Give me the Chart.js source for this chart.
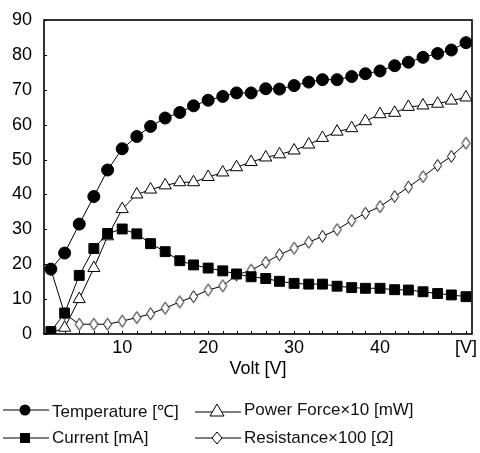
<!DOCTYPE html>
<html>
<head>
<meta charset="utf-8">
<script src="https://cdn.jsdelivr.net/npm/chart.js@4.4.0/dist/chart.umd.min.js"></script>
<style>
  html, body { margin: 0; padding: 0; background: #fff; }
  #wrap { position: relative; width: 480px; height: 453px; }
  #chart { position: absolute; left: 0; top: 0; }
  .leg { position: absolute; height: 20px; display: flex; align-items: center;
         font-family: "Liberation Sans", Arial, sans-serif; font-size: 17px; color: #111; white-space: nowrap; }
  .leg svg { margin-right: 3px; }
</style>
</head>
<body>
<div id="wrap">
  <canvas id="chart" width="480" height="453"></canvas>
  <div class="leg" style="left:3px;top:400px;">
    <svg width="46" height="16"><line x1="0" y1="8" x2="46" y2="8" stroke="#000"/><circle cx="22" cy="8" r="5.5" fill="#000"/></svg>Temperature [℃]
  </div>
  <div class="leg" style="left:195px;top:400px;">
    <svg width="46" height="16"><line x1="0" y1="10" x2="46" y2="10" stroke="#000"/><polygon points="22,2 29,14 15,14" fill="#fff" stroke="#000"/></svg>Power Force×10 [mW]
  </div>
  <div class="leg" style="left:3px;top:428px;">
    <svg width="46" height="16"><line x1="0" y1="8" x2="46" y2="8" stroke="#000"/><rect x="17" y="3" width="10" height="10" fill="#000"/></svg>Current [mA]
  </div>
  <div class="leg" style="left:195px;top:428px;">
    <svg width="46" height="16"><line x1="0" y1="8" x2="46" y2="8" stroke="#000"/><polygon points="22,2 27,8 22,14 17,8" fill="#fff" stroke="#000"/></svg>Resistance×100 [<i>Ω</i>]
  </div>
</div>
<script>
// data
const volts = [1.7, 3.3, 5, 6.7, 8.3, 10, 11.7, 13.3, 15, 16.7, 18.3, 20, 21.7, 23.3, 25,
    26.7, 28.3, 30, 31.7, 33.3, 35, 36.7, 38.3, 40, 41.7, 43.3, 45, 46.7, 48.3, 50];
const temperature = [18.6, 23.2, 31.5, 39.4, 47.0, 53.1, 56.6, 59.5, 61.9, 63.5, 65.4, 67.0, 68.1, 69.1, 69.1,
    70.3, 70.2, 71.2, 72.2, 72.9, 72.9, 73.8, 74.6, 75.4, 76.9, 77.9, 79.3, 80.4, 81.4, 83.5];
const current = [0.7, 6.0, 16.8, 24.5, 28.8, 30.1, 28.7, 25.9, 23.6, 21.0, 19.8, 18.9, 18.1, 17.2, 16.4,
    15.9, 15.1, 14.5, 14.3, 14.3, 13.7, 13.3, 13.1, 13.1, 12.7, 12.6, 12.1, 11.6, 11.2, 10.7];
const powerForce = [0.3, 1.8, 10.0, 18.9, 28.0, 35.8, 40.0, 41.4, 42.6, 43.5, 43.5, 45.0, 46.3, 47.8, 49.3,
    50.6, 51.5, 52.6, 54.3, 56.2, 58.0, 59.0, 61.0, 63.0, 63.4, 65.1, 65.5, 66.0, 66.9, 67.8];
const resistance = [18.5, 5.8, 2.8, 2.8, 2.8, 3.7, 4.7, 5.8, 7.4, 9.2, 10.7, 12.6, 13.8, 16.9, 18.3,
    20.5, 22.7, 24.6, 26.3, 28.0, 29.9, 32.5, 34.6, 36.5, 39.4, 42.1, 45.1, 48.3, 50.9, 54.7];

const xTicks = [10, 20, 30, 40, 50];
const xTickLabels = ['10', '20', '30', '40', '[V]'];
const yTicks = [0, 10, 20, 30, 40, 50, 60, 70, 80, 90];

function pts(values) {
    return values.map((v, i) => ({ x: volts[i], y: v }));
}

// skinny open diamond for resistance
function diamond() {
    const c = document.createElement('canvas');
    c.width = 11; c.height = 15;
    const g = c.getContext('2d');
    g.beginPath();
    g.moveTo(5.5, 1.5); g.lineTo(9.5, 7.5); g.lineTo(5.5, 13.5); g.lineTo(1.5, 7.5);
    g.closePath();
    g.fillStyle = '#fff'; g.fill();
    g.strokeStyle = '#000'; g.lineWidth = 1; g.stroke();
    return c;
}

// box round the plot + small inward ticks
const frame = {
    id: 'frame',
    afterDraw(chart) {
        const a = chart.chartArea, ctx = chart.ctx;
        const xs = chart.scales.x, ys = chart.scales.y;
        ctx.save();
        ctx.strokeStyle = '#000';
        ctx.lineWidth = 1;
        volts.forEach(v => {
            const px = Math.round(xs.getPixelForValue(v)) + 0.5;
            ctx.beginPath(); ctx.moveTo(px, a.bottom); ctx.lineTo(px, a.bottom - 3); ctx.stroke();
        });
        yTicks.forEach(v => {
            const py = Math.round(ys.getPixelForValue(v)) + 0.5;
            ctx.beginPath(); ctx.moveTo(a.left, py); ctx.lineTo(a.left + 3, py); ctx.stroke();
        });
        ctx.lineWidth = 1.6;
        ctx.strokeRect(a.left, a.top, a.right - a.left, a.bottom - a.top);
        ctx.restore();
    }
};

const font = { family: '"Liberation Sans", Arial, sans-serif', size: 18 };

const chart = new Chart(document.getElementById('chart'), {
    type: 'line',
    data: {
        datasets: [{
            label: 'Temperature [℃]',
            data: pts(temperature),
            borderColor: '#000', borderWidth: 1,
            pointStyle: 'circle', pointRadius: 6, pointBackgroundColor: '#000', pointBorderColor: '#000'
        }, {
            label: 'Current [mA]',
            data: pts(current),
            borderColor: '#000', borderWidth: 1,
            pointStyle: 'rect', pointRadius: 7, pointBackgroundColor: '#000', pointBorderColor: '#000'
        }, {
            label: 'Power Force×10 [mW]',
            data: pts(powerForce),
            borderColor: '#000', borderWidth: 1,
            pointStyle: 'triangle', pointRadius: 7, pointBackgroundColor: '#fff', pointBorderColor: '#000', pointBorderWidth: 1
        }, {
            label: 'Resistance×100 [Ω]',
            data: pts(resistance),
            borderColor: '#000', borderWidth: 1,
            pointStyle: diamond(), pointRadius: 6
        }]
    },
    options: {
        responsive: false,
        animation: false,
        layout: { padding: { top: 20, right: 2, bottom: 63, left: 0 } },
        plugins: { legend: { display: false }, tooltip: { enabled: false } },
        scales: {
            x: {
                type: 'linear',
                min: 0.9, max: 50.7,
                afterBuildTicks: s => { s.ticks = xTicks.map(v => ({ value: v })); },
                afterFit: s => { s.height = 56; s.paddingLeft = 0; s.paddingRight = 0; },
                grid: { display: false },
                border: { display: false },
                ticks: {
                    color: '#000', font: font, padding: -5, maxRotation: 0, autoSkip: false,
                    callback: v => xTickLabels[xTicks.indexOf(v)]
                },
                title: { display: true, text: 'Volt [V]', color: '#000', font: font, padding: { top: 0, bottom: 10 } }
            },
            y: {
                min: 0, max: 90,
                afterBuildTicks: s => { s.ticks = yTicks.map(v => ({ value: v })); },
                afterFit: s => { s.width = 44; },
                grid: { display: false },
                border: { display: false },
                ticks: { color: '#000', font: font, padding: 4 }
            }
        }
    },
    plugins: [frame]
});
</script>
</body>
</html>
